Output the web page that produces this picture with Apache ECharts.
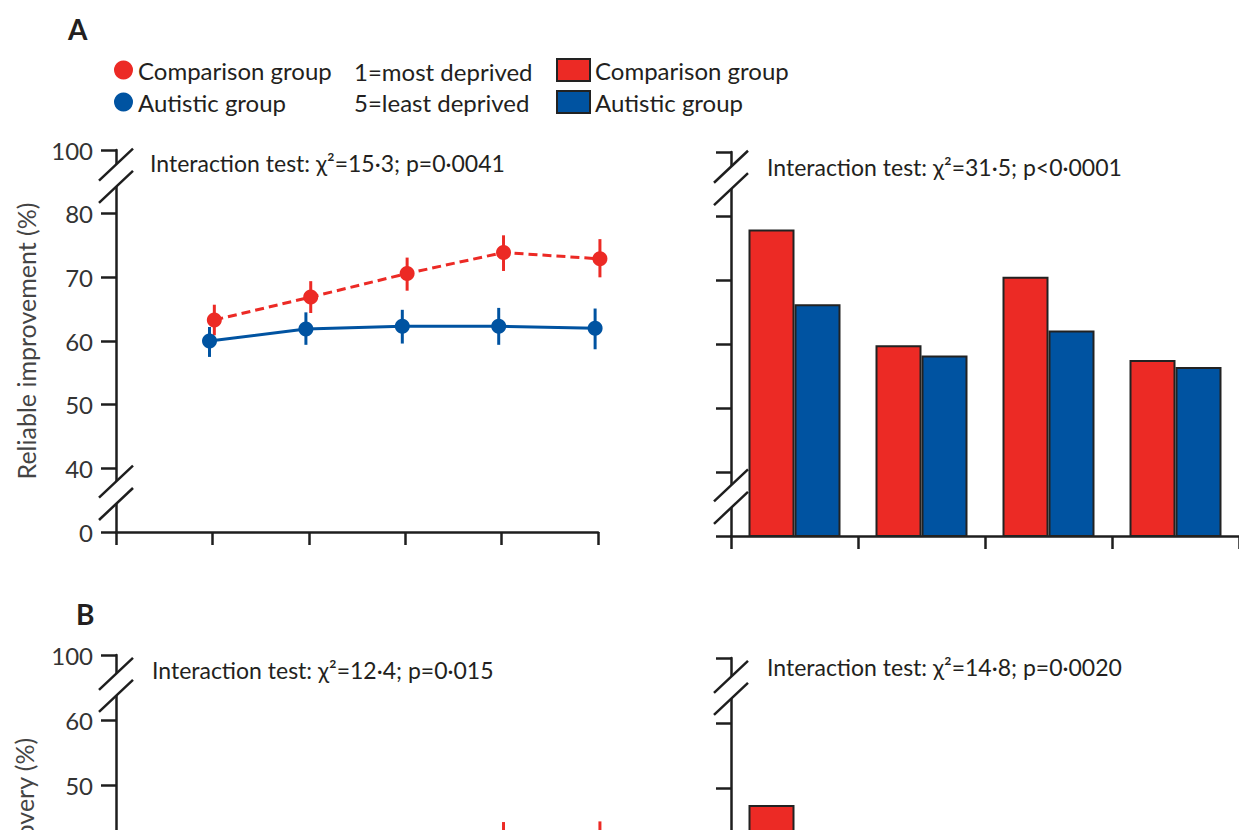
<!DOCTYPE html>
<html><head><meta charset="utf-8">
<script src="https://cdn.jsdelivr.net/npm/echarts@6/dist/echarts.min.js"></script>
<style>html,body{margin:0;padding:0;background:#fff;overflow:hidden}
#wrap{width:1239px;height:830px;overflow:hidden;position:relative}
#c{width:1239px;height:1200px}</style>
</head><body><div id="wrap"><div id="c"></div></div>
<script>
// ---------- data ----------
const quintiles = [1, 2, 3, 4, 5];
const compMean = [63.3, 66.9, 70.6, 73.9, 72.9];
const compLow  = [60.9, 64.4, 67.9, 71.0, 70.0];
const compHigh = [65.7, 69.4, 73.1, 76.6, 76.0];
const autMean  = [60.0, 61.9, 62.3, 62.3, 62.0];
const autLow   = [57.5, 59.4, 59.6, 59.4, 58.7];
const autHigh  = [62.2, 64.5, 64.9, 65.2, 65.1];
const barGroups = ['1', '2', '3', '4'];
const compBarsA = [77.9, 59.8, 70.5, 57.5];
const autBarsA  = [66.2, 58.2, 62.1, 56.4];
// panel B (only the top part is visible in the picture)
const compBarsB = [47.4, null, null, null];
const autBarsB  = [null, null, null, null];
const compErrBQuint = [4, 5];
const compErrBHigh = [44.3, 44.4];
const compErrBLow  = [38.0, 38.0];
// tick labels (broken axes)
const yTickValsA = [30, 40, 50, 60, 70, 80, 90];
const yTickLabelsA = ['0', '40', '50', '60', '70', '80', '100'];
const yTickValsB = [50, 60, 70];
const yTickLabelsB = ['50', '60', '100'];
const dodgeComp = 0.02, dodgeAut = -0.03;

// ---------- style ----------
const FONT = 'Lato';
const INK = '#231f20';
const AX = '#1e1e1e';
const RED = '#ec2a25';
const BLUE = '#0053a1';
const G = [
  {left: 116, top: 150, width: 482, height: 382},
  {left: 731, top: 152, right: 0, height: 384},
  {left: 116, top: 655, width: 482, height: 325},
  {left: 731, top: 658, right: 0, height: 325}
];

const chart = echarts.init(document.getElementById('c'), null, {renderer: 'svg'});

function lbl(vals, labels) {
  return v => { const i = vals.indexOf(Math.round(v)); return i >= 0 ? labels[i] : ''; };
}
const axisLine = {show: true, lineStyle: {color: AX, width: 2.5}};
const xTick = {show: true, length: 13, lineStyle: {color: AX, width: 2.5}};
const yTick = {show: true, length: 15, lineStyle: {color: AX, width: 2.5}};

function yAx(gi, min, max, vals, labels, showLabels, name) {
  return {
    type: 'value', gridIndex: gi, min: min, max: max, interval: 10,
    axisLine: axisLine, axisTick: yTick, splitLine: {show: false},
    axisLabel: {show: showLabels, formatter: lbl(vals, labels), fontFamily: FONT, fontSize: 24, color: '#333', margin: 23},
    name: name || '', nameLocation: 'middle', nameGap: 78,
    nameTextStyle: {fontFamily: FONT, fontSize: 25, color: '#444'}
  };
}
function xVal(gi) {
  return {type: 'value', gridIndex: gi, min: 0, max: 5, interval: 1,
    axisLine: axisLine, axisTick: xTick, axisLabel: {show: false}, splitLine: {show: false}};
}
function xCat(gi) {
  return {type: 'category', gridIndex: gi, data: barGroups, boundaryGap: true,
    axisLine: axisLine, axisTick: Object.assign({alignWithLabel: false}, xTick), axisLabel: {show: false}};
}
function errSeries(name, color, xi, yi, data) {
  return {
    type: 'custom', name: name, xAxisIndex: xi, yAxisIndex: yi, z: 3, clip: false,
    encode: {x: 0, y: [1, 2]},
    data: data,
    renderItem: function (params, api) {
      const p1 = api.coord([api.value(0), api.value(1)]);
      const p2 = api.coord([api.value(0), api.value(2)]);
      return {type: 'line', shape: {x1: p1[0], y1: p1[1], x2: p2[0], y2: p2[1]},
        style: {stroke: color, lineWidth: 3}};
    }
  };
}
const barStyle = c => ({color: c, borderColor: '#222', borderWidth: 2});

const txt = (x, y, t, extra) => ({type: 'text', x: x, y: y, z: 50,
  style: Object.assign({text: t, fontFamily: FONT, fontSize: 23, fill: INK, textVerticalAlign: 'middle'}, extra || {})});

const option = {
  animation: false,
  backgroundColor: '#fff',
  grid: G.map(g => Object.assign({containLabel: false}, g)),
  xAxis: [xVal(0), xCat(1), xVal(2), xCat(3)],
  yAxis: [
    yAx(0, 30, 90, yTickValsA, yTickLabelsA, true, 'Reliable improvement (%)'),
    yAx(1, 30, 90, yTickValsA, yTickLabelsA, false),
    yAx(2, 20, 70, yTickValsB, yTickLabelsB, true),
    yAx(3, 20, 70, yTickValsB, yTickLabelsB, false)
  ],
  legend: [
    {selectedMode: false, orient: 'vertical', left: 109, top: 53, itemWidth: 19, itemHeight: 19, itemGap: 8,
     textStyle: {fontFamily: FONT, fontSize: 24, color: INK},
     data: [{name: 'Comparison group', icon: 'circle'}, {name: 'Autistic group', icon: 'circle'}]},
    {selectedMode: false, orient: 'vertical', left: 551, top: 53, itemWidth: 33, itemHeight: 22, itemGap: 8,
     textStyle: {fontFamily: FONT, fontSize: 24, color: INK},
     data: [{name: 'Comparison group', icon: 'rect', itemStyle: {color: RED, borderColor: '#222', borderWidth: 2}},
            {name: 'Autistic group', icon: 'rect', itemStyle: {color: BLUE, borderColor: '#222', borderWidth: 2}}]}
  ],
  series: [
    errSeries('err-comp', RED, 0, 0, quintiles.map((q, i) => [q + dodgeComp, compLow[i], compHigh[i]])),
    errSeries('err-aut', BLUE, 0, 0, quintiles.map((q, i) => [q + dodgeAut, autLow[i], autHigh[i]])),
    {type: 'line', name: 'Comparison group', xAxisIndex: 0, yAxisIndex: 0, z: 4, clip: false,
     data: quintiles.map((q, i) => [q + dodgeComp, compMean[i]]),
     symbol: 'circle', symbolSize: 15, itemStyle: {color: RED},
     lineStyle: {color: RED, width: 3, type: [9, 5]}},
    {type: 'line', name: 'Autistic group', xAxisIndex: 0, yAxisIndex: 0, z: 4, clip: false,
     data: quintiles.map((q, i) => [q + dodgeAut, autMean[i]]),
     symbol: 'circle', symbolSize: 15, itemStyle: {color: BLUE},
     lineStyle: {color: BLUE, width: 3}},
    {type: 'bar', name: 'Comparison group', xAxisIndex: 1, yAxisIndex: 1, data: compBarsA,
     barWidth: 46, barGap: '0%', itemStyle: barStyle(RED)},
    {type: 'bar', name: 'Autistic group', xAxisIndex: 1, yAxisIndex: 1, data: autBarsA,
     barWidth: 46, barGap: '0%', itemStyle: barStyle(BLUE)},
    {type: 'bar', name: 'Comparison group', xAxisIndex: 3, yAxisIndex: 3, data: compBarsB,
     barWidth: 46, barGap: '0%', itemStyle: barStyle(RED)},
    {type: 'bar', name: 'Autistic group', xAxisIndex: 3, yAxisIndex: 3, data: autBarsB,
     barWidth: 46, barGap: '0%', itemStyle: barStyle(BLUE)},
    errSeries('err-comp-B', RED, 2, 2, compErrBQuint.map((q, i) => [q + dodgeComp, compErrBLow[i], compErrBHigh[i]]))
  ]
};
chart.setOption(option);

// ---------- axis break marks & texts ----------
function breakMark(xPix, yAxisIndex, vals) {
  const y0 = chart.convertToPixel({yAxisIndex: yAxisIndex}, vals[0]);
  const y1 = chart.convertToPixel({yAxisIndex: yAxisIndex}, vals[1]);
  const dx = 17, dy = 16;
  const ls = {stroke: AX, lineWidth: 2.5};
  return [
    {type: 'polygon', z: 40, shape: {points: [[xPix - dx, y0 + dy], [xPix + dx, y0 - dy], [xPix + dx, y1 - dy], [xPix - dx, y1 + dy]]},
     style: {fill: '#fff', stroke: null}},
    {type: 'line', z: 41, shape: {x1: xPix - dx, y1: y0 + dy, x2: xPix + dx, y2: y0 - dy}, style: ls},
    {type: 'line', z: 41, shape: {x1: xPix - dx, y1: y1 + dy, x2: xPix + dx, y2: y1 - dy}, style: ls}
  ];
}
const brk = [];
brk.push(...breakMark(G[0].left, 0, [87.7, 84.2]), ...breakMark(G[0].left, 0, [37.9, 34.4]));
brk.push(...breakMark(G[1].left, 1, [87.7, 84.2]), ...breakMark(G[1].left, 1, [37.9, 34.4]));
brk.push(...breakMark(G[2].left, 2, [67.1, 63.7]));
brk.push(...breakMark(G[3].left, 3, [67.1, 63.7]));

const texts = [
  txt(68, 29, 'A', {fontSize: 28, fontWeight: 'bold'}),
  txt(76, 614, 'B', {fontSize: 28, fontWeight: 'bold'}),
  txt(354, 71, '1=most deprived', {fontSize: 24}),
  txt(354, 102, '5=least deprived', {fontSize: 24}),
  txt(150, 163, 'Interaction test: χ²=15·3; p=0·0041'),
  txt(767, 167, 'Interaction test: χ²=31·5; p<0·0001'),
  txt(152, 670, 'Interaction test: χ²=12·4; p=0·015'),
  txt(767, 667, 'Interaction test: χ²=14·8; p=0·0020'),
  {type: 'text', x: 24, y: 808, rotation: Math.PI / 2, z: 50,
   style: {text: 'Recovery (%)', fontFamily: FONT, fontSize: 25, fill: '#444', textAlign: 'center', textVerticalAlign: 'middle'}}
];
chart.setOption({graphic: brk.concat(texts)});
</script></body></html>
